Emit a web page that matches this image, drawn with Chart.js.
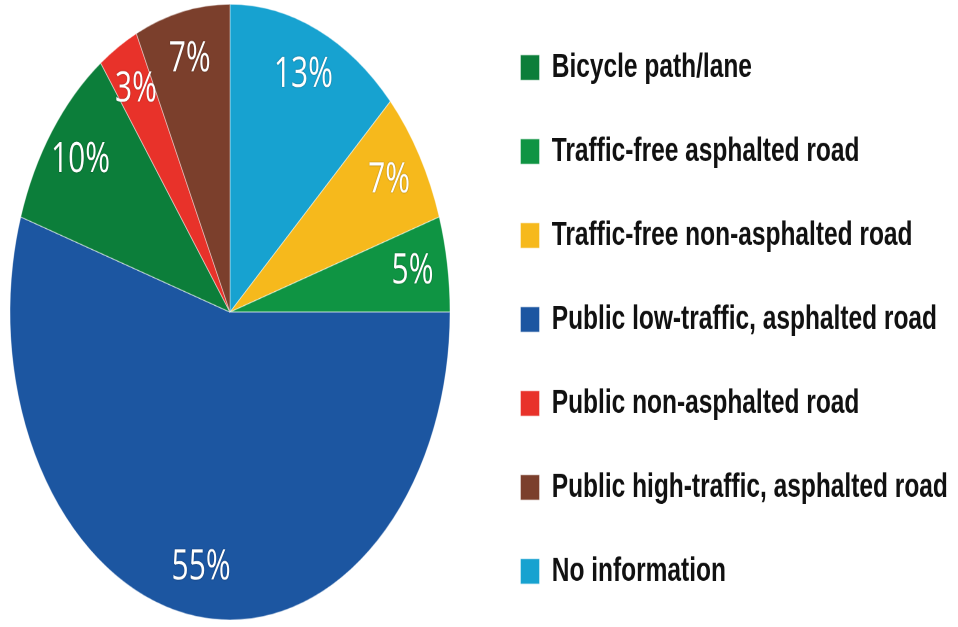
<!DOCTYPE html>
<html>
<head>
<meta charset="utf-8">
<script src="https://cdn.jsdelivr.net/npm/chart.js@4.4.0/dist/chart.umd.min.js"></script>
<style>
    html, body { margin: 0; padding: 0; background: #fff; overflow: hidden; }
    #wrap {
        position: absolute;
        left: -25px;
        top: -14px;
        width: 983px;
        height: 466px;
        transform: scaleY(1.3996);
        transform-origin: 0 0;
    }
</style>
</head>
<body>
<div id="wrap"><canvas id="road-chart" width="983" height="466"></canvas></div>
<script>
// Slices, clockwise from 12 o'clock
var categories = [
    'No information',
    'Traffic-free non-asphalted road',
    'Traffic-free asphalted road',
    'Public low-traffic, asphalted road',
    'Bicycle path/lane',
    'Public non-asphalted road',
    'Public high-traffic, asphalted road'
];
var shares = [13, 7, 5, 55, 10, 3, 7];
var sliceColors = ['#17a2d0', '#f6b91c', '#0f9443', '#1c56a1', '#0c7e3a', '#e8322a', '#7b3f2c'];

// Order in which the legend lists the categories
var legendOrder = [
    'Bicycle path/lane',
    'Traffic-free asphalted road',
    'Traffic-free non-asphalted road',
    'Public low-traffic, asphalted road',
    'Public non-asphalted road',
    'Public high-traffic, asphalted road',
    'No information'
];

var legendFont = { family: '"Liberation Sans", Arial, sans-serif', size: 24.5, weight: 'bold' };
var legendPadding = 35.5;
var legendBox = 19;

// Work out right padding so the legend starts where the pie area ends
var canvas = document.getElementById('road-chart');
var mctx = canvas.getContext('2d');
mctx.font = 'bold 24.5px "Liberation Sans", Arial, sans-serif';
var maxText = 0;
categories.forEach(function (c) {
    maxText = Math.max(maxText, mctx.measureText(c).width);
});
var legendWidth = legendPadding + legendBox + legendFont.size / 2 + maxText + 10;
var rightPad = Math.max(0, 983 - 510 - legendWidth);

// Percentage labels near the rim of each slice
var sliceLabels = {
    id: 'sliceLabels',
    afterDatasetsDraw: function (chart) {
        var ctx = chart.ctx;
        var meta = chart.getDatasetMeta(0);
        ctx.save();
        ctx.font = '400 30px "Open Sans", "DejaVu Sans", sans-serif';
        ctx.textAlign = 'center';
        ctx.textBaseline = 'middle';
        ctx.fillStyle = '#ffffff';
        ctx.shadowColor = 'rgba(0,0,0,0.55)';
        ctx.shadowBlur = 2;
        meta.data.forEach(function (arc, i) {
            var p = arc.getProps(['x', 'y', 'startAngle', 'endAngle', 'outerRadius'], true);
            var mid = (p.startAngle + p.endAngle) / 2;
            var r = p.outerRadius * 0.84;
            ctx.fillText(shares[i] + '%', p.x + Math.cos(mid) * r, p.y + Math.sin(mid) * r);
        });
        ctx.restore();
    }
};

window.roadChart = new Chart(canvas, {
    type: 'pie',
    data: {
        labels: categories,
        datasets: [{
            data: shares,
            backgroundColor: sliceColors,
            borderColor: 'rgba(255,255,255,0.5)',
            borderWidth: 0.8,
            radius: 220
        }]
    },
    options: {
        responsive: false,
        animation: false,
        devicePixelRatio: 2,
        layout: { padding: { left: 0, right: rightPad, top: 0, bottom: 0 } },
        plugins: {
            tooltip: { enabled: false },
            legend: {
                position: 'right',
                align: 'end',
                labels: {
                    color: '#111111',
                    font: legendFont,
                    boxWidth: legendBox,
                    boxHeight: 18,
                    padding: legendPadding,
                    sort: function (a, b) {
                        return legendOrder.indexOf(a.text) - legendOrder.indexOf(b.text);
                    }
                }
            }
        }
    },
    plugins: [sliceLabels]
});
</script>
</body>
</html>
